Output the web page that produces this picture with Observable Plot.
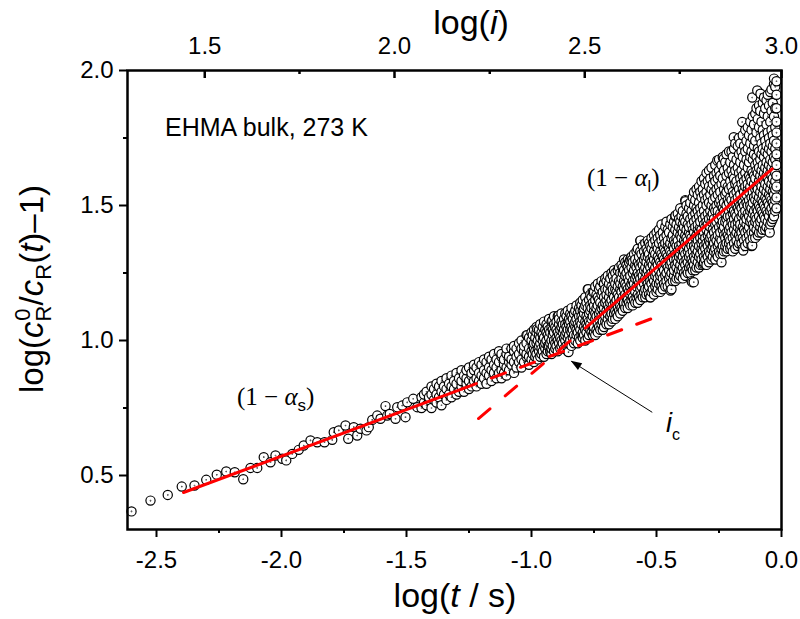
<!DOCTYPE html>
<html>
<head>
<meta charset="utf-8">
<script src="https://cdn.jsdelivr.net/npm/d3@7"></script>
<script src="https://cdn.jsdelivr.net/npm/@observablehq/plot@0.6"></script>
<style>
  html, body { margin: 0; padding: 0; background: #fff; }
  #chart svg { display: block; }
</style>
</head>
<body>
<div id="chart"></div>
<script>
// ---------- data ----------
const xTicks = [-2.5, -2.0, -1.5, -1.0, -0.5, 0.0];
const xMinor = [-2.25, -1.75, -1.25, -0.75, -0.25];
const yTicks = [0.5, 1.0, 1.5, 2.0];
const yMinor = [0.75, 1.25, 1.75];
// top axis log(i): labels and their positions on the log(t) scale
const topLabels = ["1.5", "2.0", "2.5", "3.0"];
const topPos = [-2.307, -1.548, -0.787, 0.0];
const topMinorPos = [-1.928, -1.167, -0.407];

// sparse early-time points
const earlyT = [-2.600,-2.524,-2.455,-2.399,-2.348,-2.301,-2.259,-2.221,-2.187,-2.153,-2.124,-2.097,-2.071,-2.044,-2.024,-1.997,-1.981,-1.957,-1.931,-1.911,-1.884,-1.857,-1.828,-1.797,-1.791,-1.771,-1.744,-1.733,-1.711,-1.697,-1.684,-1.660,-1.651,-1.637,-1.617,-1.604,-1.584,-1.577,-1.567,-1.544,-1.537,-1.517,-1.504,-1.497,-1.473,-1.457];
const earlyR = [0.367,0.407,0.428,0.459,0.463,0.484,0.503,0.515,0.512,0.486,0.528,0.528,0.568,0.549,0.574,0.562,0.556,0.580,0.595,0.611,0.630,0.623,0.623,0.632,0.660,0.667,0.685,0.636,0.679,0.648,0.673,0.667,0.679,0.706,0.722,0.710,0.757,0.722,0.728,0.710,0.753,0.759,0.716,0.771,0.784,0.753];

// scattered points lying off the main band (read individually)
const strayT = [-1.017,-0.977,-0.917,-0.891,-0.924,-0.852,-0.773,-0.711,-0.604,-0.597,-0.564,-0.524,-0.444,-0.424,-0.384,-0.357,-0.351,-0.311,-0.257,-0.240,-0.231,-0.191,-0.157,-0.153,-0.117,-0.117,-0.097,-0.084,-0.047];
const strayR = [1.019,1.043,1.074,1.093,0.957,0.957,1.190,1.210,1.296,1.300,1.370,1.160,1.185,1.463,1.516,1.216,1.216,1.284,1.667,1.290,1.673,1.753,1.809,1.333,1.352,1.900,1.926,1.914,1.400];

// middle band: [log t, log(...) values]
const bandCols = [
  [-1.44,0.75,0.79],[-1.43,0.77,0.80],[-1.42,0.76,0.81],[-1.41,0.78,0.79],[-1.40,0.75,0.80,0.83],
  [-1.39,0.78,0.82],[-1.38,0.77,0.80,0.84],[-1.37,0.79,0.83],[-1.36,0.76,0.81,0.85],[-1.35,0.80,0.83],
  [-1.34,0.78,0.82,0.86],[-1.33,0.80,0.84],[-1.32,0.79,0.83,0.87],[-1.31,0.82,0.85],[-1.30,0.80,0.84,0.88],
  [-1.29,0.81,0.86],[-1.28,0.83,0.85,0.89],[-1.27,0.81,0.87],[-1.26,0.84,0.86,0.89],[-1.25,0.82,0.85,0.90],
  [-1.24,0.83,0.87,0.88],[-1.23,0.85,0.89,0.91],[-1.22,0.83,0.86,0.90],[-1.21,0.85,0.88,0.92],[-1.20,0.84,0.87,0.91],
  [-1.19,0.86,0.89,0.93],[-1.18,0.84,0.88,0.92],[-1.17,0.87,0.90,0.94],[-1.16,0.85,0.89,0.93],[-1.15,0.88,0.91,0.95],
  [-1.14,0.86,0.90,0.93],[-1.13,0.88,0.92,0.96],[-1.12,0.86,0.89,0.94,0.95],[-1.11,0.88,0.91,0.93],[-1.10,0.87,0.90,0.95,0.97],
  [-1.09,0.89,0.92,0.94],[-1.08,0.91,0.93,0.97],[-1.07,0.88,0.92,0.96,0.98],[-1.06,0.90,0.94,0.97],[-1.05,0.92,0.95,0.99],
  [-1.04,0.90,0.93,0.97,1.00],[-1.03,0.92,0.96,0.98],[-1.02,0.94,0.95,0.99,1.02],[-1.01,0.91,0.94,0.97,1.01],[-1.00,0.93,0.96,1.00,1.03],
  [-0.995,0.95,0.98,1.02],[-0.99,0.92,0.97,0.99,1.04],[-0.985,0.94,0.96,1.01],[-0.98,0.95,0.99,1.03,1.05],[-0.975,0.93,0.97,1.00],
  [-0.97,0.96,0.98,1.02,1.04],[-0.965,0.94,0.99,1.01,1.06],[-0.96,0.95,0.97,1.03],[-0.955,0.96,1.00,1.02,1.05],[-0.95,0.94,0.98,1.01,1.07],
  [-0.945,0.97,0.99,1.04],[-0.94,0.95,1.00,1.03,1.06],[-0.935,0.96,0.98,1.02,1.05],[-0.93,0.98,1.01,1.04,1.08],[-0.925,0.96,0.99,1.03],
  [-0.92,0.95,0.97,1.00,1.05,1.07],[-0.915,0.98,1.02,1.04],[-0.91,0.96,1.00,1.03,1.06,1.09],[-0.905,0.97,0.99,1.05],[-0.90,0.98,1.01,1.04,1.07],
  [-0.895,0.96,1.00,1.03,1.09],[-0.89,0.99,1.02,1.06,1.08],[-0.885,0.97,1.01,1.04],[-0.88,0.98,1.00,1.05,1.07,1.10],[-0.875,0.99,1.03,1.06],
  [-0.87,0.97,1.01,1.04,1.08],[-0.865,1.00,1.02,1.06,1.10],[-0.86,0.98,1.03,1.05,1.09],[-0.855,0.96,1.01,1.04,1.07,1.11],[-0.85,0.99,1.02,1.06,1.08],
  [-0.845,1.00,1.04,1.07,1.10],[-0.84,0.98,1.03,1.05,1.09,1.12],[-0.835,1.01,1.04,1.08],[-0.83,0.99,1.02,1.06,1.10],[-0.825,1.00,1.05,1.07,1.11],
  [-0.82,1.02,1.04,1.08,1.13],[-0.815,0.99,1.03,1.06,1.10],[-0.81,1.01,1.05,1.09,1.12],[-0.805,1.00,1.04,1.07,1.11,1.14],[-0.80,1.02,1.06,1.09,1.13],
  [-0.795,1.01,1.03,1.08,1.11,1.15],[-0.79,1.02,1.05,1.10,1.12],[-0.785,1.00,1.04,1.07,1.13,1.16],[-0.78,1.03,1.06,1.09,1.14],[-0.775,1.01,1.05,1.08,1.12,1.19],
  [-0.77,1.02,1.07,1.10,1.15],[-0.765,1.04,1.06,1.11,1.13,1.17],[-0.76,1.03,1.08,1.12,1.16],[-0.755,1.02,1.05,1.09,1.14,1.18]
];

// late-time dense tail: [log t, log(...) values]
const tailCols = [
  [-0.750,1.03,1.05,1.11,1.13,1.18],[-0.745,1.02,1.08,1.10,1.15,1.20],[-0.740,1.04,1.09,1.12,1.17],[-0.735,1.03,1.06,1.13,1.16,1.21],
  [-0.730,1.05,1.08,1.10,1.15,1.19],[-0.725,1.04,1.11,1.14,1.20],[-0.720,1.06,1.09,1.12,1.17,1.22],[-0.715,1.04,1.07,1.13,1.18],
  [-0.710,1.05,1.10,1.12,1.16,1.21],[-0.705,1.07,1.09,1.14,1.19,1.23],[-0.700,1.06,1.11,1.15,1.17,1.22],[-0.695,1.08,1.10,1.13,1.19,1.24],
  [-0.690,1.06,1.12,1.16,1.21],[-0.685,1.09,1.11,1.14,1.18,1.23],[-0.680,1.07,1.10,1.15,1.20,1.25],[-0.675,1.08,1.13,1.17,1.19,1.24],
  [-0.670,1.10,1.12,1.16,1.22,1.26],[-0.665,1.08,1.11,1.14,1.19,1.21,1.25],[-0.660,1.10,1.15,1.18,1.23],[-0.655,1.09,1.12,1.17,1.20,1.26],
  [-0.650,1.11,1.14,1.16,1.22,1.27],[-0.645,1.10,1.13,1.19,1.21,1.25],[-0.640,1.12,1.15,1.18,1.23,1.28],[-0.635,1.11,1.16,1.20,1.25,1.27],
  [-0.630,1.13,1.14,1.19,1.22,1.26,1.30],[-0.625,1.12,1.17,1.21,1.24,1.29],[-0.620,1.14,1.16,1.20,1.25,1.28],[-0.615,1.12,1.15,1.19,1.23,1.27,1.30],
  [-0.610,1.14,1.18,1.22,1.26,1.29],[-0.605,1.13,1.17,1.20,1.24,1.30],[-0.600,1.15,1.18,1.21,1.27,1.31],[-0.595,1.13,1.16,1.22,1.25,1.29],
  [-0.590,1.15,1.19,1.21,1.26,1.32],[-0.585,1.14,1.18,1.23,1.28,1.30],[-0.580,1.16,1.20,1.24,1.27,1.33],[-0.575,1.14,1.17,1.22,1.25,1.29,1.34],
  [-0.570,1.16,1.21,1.24,1.28,1.31],[-0.565,1.15,1.19,1.23,1.27,1.33,1.37],[-0.560,1.17,1.20,1.25,1.29,1.32],[-0.555,1.16,1.22,1.24,1.28,1.35],
  [-0.550,1.18,1.21,1.26,1.30,1.33],[-0.545,1.16,1.19,1.23,1.27,1.31,1.36],[-0.540,1.17,1.22,1.25,1.29,1.34],[-0.535,1.19,1.21,1.26,1.31,1.33,1.37],
  [-0.530,1.17,1.20,1.24,1.28,1.32,1.36],[-0.525,1.16,1.22,1.27,1.30,1.35],[-0.520,1.18,1.21,1.25,1.29,1.34,1.38],[-0.515,1.19,1.23,1.28,1.31,1.36],
  [-0.510,1.17,1.22,1.26,1.30,1.33,1.39],[-0.505,1.20,1.24,1.27,1.32,1.37],[-0.500,1.18,1.21,1.25,1.29,1.35,1.40],[-0.495,1.19,1.23,1.28,1.31,1.34,1.38],
  [-0.490,1.21,1.26,1.30,1.36,1.41],[-0.485,1.18,1.22,1.24,1.29,1.33,1.39],[-0.480,1.20,1.25,1.28,1.32,1.37,1.43],[-0.475,1.19,1.23,1.27,1.31,1.35,1.40],
  [-0.470,1.21,1.26,1.30,1.34,1.38],[-0.465,1.20,1.24,1.29,1.33,1.36,1.42],[-0.460,1.22,1.25,1.28,1.32,1.39,1.44],[-0.455,1.20,1.27,1.31,1.35,1.37,1.41],
  [-0.450,1.23,1.26,1.30,1.34,1.40],[-0.445,1.21,1.24,1.28,1.33,1.36,1.43],[-0.440,1.19,1.25,1.29,1.32,1.38,1.45],[-0.435,1.22,1.27,1.31,1.35,1.39,1.42],
  [-0.430,1.24,1.26,1.30,1.34,1.37,1.44],[-0.425,1.22,1.28,1.32,1.36,1.41,1.46],[-0.420,1.23,1.27,1.30,1.35,1.38,1.43],[-0.415,1.25,1.29,1.33,1.37,1.40,1.47],
  [-0.410,1.23,1.26,1.31,1.35,1.42,1.45],[-0.405,1.24,1.28,1.32,1.34,1.39,1.44,1.49],[-0.400,1.26,1.30,1.36,1.38,1.41,1.46],[-0.395,1.23,1.27,1.31,1.34,1.40,1.43,1.48],
  [-0.390,1.25,1.29,1.33,1.37,1.42,1.45],[-0.385,1.24,1.28,1.32,1.36,1.39,1.44,1.52],[-0.380,1.26,1.30,1.35,1.38,1.41,1.47,1.50],[-0.375,1.25,1.29,1.33,1.37,1.43,1.46],
  [-0.370,1.27,1.31,1.34,1.40,1.42,1.49],[-0.365,1.25,1.28,1.32,1.36,1.39,1.45,1.51],[-0.360,1.22,1.27,1.30,1.35,1.38,1.43,1.48],[-0.355,1.26,1.29,1.33,1.37,1.41,1.46,1.53],
  [-0.350,1.28,1.31,1.35,1.40,1.44,1.50,1.55],[-0.345,1.26,1.30,1.34,1.38,1.42,1.47,1.52],[-0.340,1.27,1.32,1.36,1.39,1.45,1.49,1.56],[-0.335,1.29,1.33,1.37,1.41,1.43,1.48,1.54],
  [-0.330,1.27,1.31,1.35,1.40,1.46,1.51,1.57],[-0.325,1.28,1.32,1.38,1.42,1.44,1.49,1.55],[-0.320,1.30,1.34,1.36,1.41,1.47,1.53,1.59],[-0.315,1.28,1.33,1.37,1.39,1.45,1.50,1.56],
  [-0.310,1.29,1.31,1.35,1.40,1.43,1.48,1.54,1.60],[-0.305,1.30,1.34,1.38,1.42,1.46,1.52,1.58],[-0.300,1.28,1.32,1.36,1.41,1.44,1.50,1.55,1.62],[-0.295,1.31,1.35,1.39,1.43,1.47,1.53,1.59],
  [-0.290,1.29,1.33,1.37,1.40,1.45,1.51,1.57,1.63],[-0.285,1.32,1.36,1.38,1.42,1.48,1.54,1.60],[-0.280,1.30,1.34,1.39,1.44,1.46,1.50,1.56,1.64],[-0.275,1.31,1.35,1.37,1.41,1.47,1.52,1.58],
  [-0.270,1.33,1.36,1.40,1.45,1.49,1.55,1.61],[-0.265,1.30,1.34,1.38,1.43,1.48,1.53,1.59,1.65],[-0.260,1.32,1.37,1.41,1.44,1.50,1.56,1.62],[-0.255,1.31,1.35,1.39,1.46,1.48,1.54,1.60],
  [-0.250,1.33,1.36,1.42,1.45,1.51,1.57,1.63,1.67],[-0.245,1.32,1.38,1.40,1.47,1.52,1.55,1.61],[-0.240,1.34,1.37,1.43,1.46,1.50,1.58,1.65],[-0.235,1.32,1.35,1.41,1.44,1.49,1.53,1.60,1.68],
  [-0.230,1.33,1.39,1.42,1.48,1.51,1.56,1.63],[-0.225,1.35,1.38,1.44,1.47,1.54,1.58,1.66],[-0.220,1.33,1.36,1.40,1.45,1.50,1.55,1.61,1.69],[-0.215,1.34,1.39,1.43,1.46,1.52,1.57,1.64],
  [-0.210,1.36,1.38,1.41,1.48,1.51,1.56,1.62,1.70],[-0.205,1.34,1.37,1.42,1.46,1.53,1.59,1.66],[-0.200,1.35,1.40,1.44,1.49,1.52,1.57,1.63,1.70],[-0.195,1.33,1.38,1.43,1.47,1.50,1.55,1.61,1.68],
  [-0.190,1.36,1.41,1.45,1.48,1.54,1.60,1.65,1.71],[-0.185,1.34,1.39,1.43,1.47,1.52,1.58,1.63,1.73],[-0.180,1.37,1.40,1.46,1.50,1.55,1.59,1.67],[-0.175,1.35,1.42,1.44,1.49,1.53,1.57,1.64,1.72],
  [-0.170,1.36,1.39,1.45,1.48,1.51,1.56,1.62,1.69,1.75],[-0.165,1.38,1.41,1.43,1.50,1.54,1.60,1.66,1.73],[-0.160,1.36,1.40,1.46,1.49,1.52,1.58,1.63,1.70],[-0.155,1.34,1.38,1.42,1.47,1.51,1.56,1.61,1.68,1.76],
  [-0.150,1.37,1.41,1.44,1.50,1.55,1.59,1.65,1.72],[-0.145,1.35,1.40,1.46,1.48,1.53,1.57,1.62,1.70,1.78],[-0.140,1.38,1.43,1.45,1.51,1.54,1.60,1.67,1.74],[-0.135,1.36,1.41,1.47,1.50,1.56,1.58,1.64,1.71,1.79],
  [-0.130,1.39,1.42,1.46,1.52,1.55,1.61,1.66,1.76],[-0.125,1.37,1.44,1.48,1.50,1.57,1.60,1.68,1.73,1.81],[-0.120,1.35,1.40,1.45,1.49,1.53,1.59,1.63,1.70,1.78],[-0.115,1.38,1.43,1.47,1.51,1.55,1.62,1.67,1.75,1.83],
  [-0.110,1.40,1.42,1.48,1.53,1.58,1.61,1.69,1.72,1.80],[-0.105,1.38,1.44,1.46,1.52,1.56,1.60,1.65,1.74,1.84],[-0.100,1.41,1.45,1.49,1.54,1.57,1.63,1.68,1.77,1.86],[-0.095,1.39,1.43,1.48,1.51,1.56,1.62,1.66,1.71,1.82],
  [-0.090,1.40,1.46,1.50,1.53,1.59,1.64,1.70,1.79,1.87],[-0.085,1.42,1.44,1.49,1.55,1.58,1.61,1.67,1.75,1.85],[-0.080,1.40,1.45,1.48,1.52,1.57,1.63,1.69,1.73,1.81],[-0.075,1.41,1.47,1.51,1.54,1.60,1.65,1.71,1.78,1.88],
  [-0.070,1.43,1.46,1.50,1.56,1.59,1.62,1.68,1.76,1.84,1.90],[-0.065,1.41,1.45,1.49,1.53,1.58,1.64,1.70,1.74,1.86],[-0.060,1.42,1.48,1.52,1.55,1.61,1.66,1.72,1.80,1.89],[-0.055,1.44,1.47,1.51,1.57,1.60,1.63,1.69,1.77,1.83,1.91],
  [-0.050,1.41,1.46,1.50,1.54,1.59,1.65,1.71,1.75,1.87],[-0.045,1.43,1.48,1.53,1.56,1.62,1.67,1.73,1.81,1.92],[-0.040,1.44,1.49,1.52,1.58,1.61,1.64,1.70,1.78,1.85,1.93],[-0.035,1.45,1.47,1.51,1.55,1.60,1.66,1.72,1.76,1.88],
  [-0.030,1.46,1.50,1.54,1.57,1.63,1.68,1.74,1.83,1.95,1.97],[-0.025,1.48,1.52,1.56,1.59,1.62,1.67,1.71,1.79,1.86,1.94],[-0.020,1.49,1.53,1.57,1.61,1.65,1.69,1.73,1.77,1.81,1.86,1.91,1.96]
];

// linear fits (solid) and their extrapolations (dashed)
const shortFitT = [-2.392, -1.277], shortFitR = [0.437, 0.821];
const shortExtT = [-1.277, -0.484], shortExtR = [0.821, 1.093];
const longFitT = [-0.757, -0.037], longFitR = [1.068, 1.636];
const longExtT = [-1.212, -0.757], longExtR = [0.711, 1.068];
// arrow pointing at the crossover i_c (tail -> tip)
const arrowT = [-0.517, -0.841], arrowR = [0.734, 0.923];

// ---------- build ----------
const points = [];
earlyT.forEach((t, i) => points.push({t, r: earlyR[i]}));
strayT.forEach((t, i) => points.push({t, r: strayR[i]}));
for (const [t, ...rs] of bandCols) for (const r of rs) points.push({t, r});
for (const [t, ...rs] of tailCols) for (const r of rs) points.push({t, r});
points.sort((a, b) => a.t - b.t);   // draw in time order, later points on top
const seg = (T, R) => T.map((t, i) => ({t, r: R[i]}));
const topMap = new Map(topPos.map((p, i) => [p, topLabels[i]]));

// circle with a tiny centre dot (Origin style)
const ringDot = {
  draw(context, size) {
    const r = Math.sqrt(size / Math.PI);
    context.moveTo(r, 0);
    context.arc(0, 0, r, 0, 2 * Math.PI);
    context.moveTo(0.2, 0);
    context.arc(0, 0, 0.2, 0, 2 * Math.PI);
  }
};

const RED = "#ff0000";
const plot = Plot.plot({
  width: 800,
  height: 619,
  marginLeft: 127,
  marginRight: 19,
  marginTop: 70,
  marginBottom: 90,
  x: {domain: [-2.616, 0.0]},
  y: {domain: [0.3, 2.0]},
  style: {fontFamily: "'Liberation Sans', Arial, sans-serif", fontSize: "24px", color: "black", background: "white", overflow: "visible"},
  marks: [
    Plot.axisX({ticks: xTicks, tickFormat: d => d.toFixed(1), tickSize: 8, tickPadding: 13, strokeWidth: 2, label: null}),
    Plot.axisX({ticks: xMinor, tickFormat: () => "", tickSize: 4, strokeWidth: 2, label: null}),
    Plot.axisY({ticks: yTicks, tickFormat: d => d.toFixed(1), tickSize: 8, tickPadding: 6, strokeWidth: 2, label: null}),
    Plot.axisY({ticks: yMinor, tickFormat: () => "", tickSize: 4, strokeWidth: 2, label: null}),
    Plot.axisX({anchor: "top", ticks: topPos, tickFormat: d => topMap.get(d), tickSize: 0, tickPadding: 17, label: null}),
    Plot.tickX(topPos, {x: d => d, insetBottom: 451, strokeWidth: 2.5, stroke: "black"}),
    Plot.tickX(topMinorPos, {x: d => d, insetBottom: 455, strokeWidth: 2.5, stroke: "black"}),
    Plot.dot(points, {x: "t", y: "r", r: 4.6, symbol: ringDot, fill: "white", stroke: "black", strokeWidth: 1.2}),
    Plot.line(seg(shortFitT, shortFitR), {x: "t", y: "r", stroke: RED, strokeWidth: 3}),
    Plot.line(seg(shortExtT, shortExtR), {x: "t", y: "r", stroke: RED, strokeWidth: 3, strokeDasharray: "15,16"}),
    Plot.line(seg(longFitT, longFitR), {x: "t", y: "r", stroke: RED, strokeWidth: 3}),
    Plot.line(seg(longExtT, longExtR), {x: "t", y: "r", stroke: RED, strokeWidth: 3, strokeDasharray: "15,20"}),
    Plot.link([0], {x1: () => arrowT[0], y1: () => arrowR[0], x2: () => arrowT[1], y2: () => arrowR[1], stroke: "black", strokeWidth: 1}),
    Plot.frame({stroke: "black", strokeWidth: 2.5})
  ]
});

document.getElementById("chart").appendChild(plot);

// ---------- annotations and titles (real text) ----------
const svg = d3.select(plot);
const sx = plot.scale("x"), sy = plot.scale("y");
const SANS = "'Liberation Sans', Arial, sans-serif";
const SERIF = "'Liberation Serif', 'Times New Roman', serif";

// arrow head
{
  const tx = sx.apply(arrowT[1]), ty = sy.apply(arrowR[1]);
  const fx = sx.apply(arrowT[0]), fy = sy.apply(arrowR[0]);
  const len = Math.hypot(tx - fx, ty - fy);
  const ux = (tx - fx) / len, uy = (ty - fy) / len;
  const bx = tx - 11 * ux, by = ty - 11 * uy;
  const nx = -uy, ny = ux;
  svg.append("polygon")
    .attr("points", [[tx, ty], [bx + 4 * nx, by + 4 * ny], [bx - 4 * nx, by - 4 * ny]].map(p => p.join(",")).join(" "))
    .attr("fill", "black");
}

function addText(x, y, parts, opts = {}) {
  const t = svg.append("text")
    .attr("x", x).attr("y", y)
    .attr("font-family", opts.family || SANS)
    .attr("font-size", opts.size || 24)
    .attr("fill", "black")
    .attr("text-anchor", opts.anchor || "start");
  if (opts.transform) t.attr("transform", opts.transform);
  for (const p of parts) {
    const s = t.append("tspan").text(p.text);
    if (p.italic) s.attr("font-style", "italic");
    if (p.size) s.attr("font-size", p.size);
    if (p.dy) s.attr("dy", p.dy);
    if (p.dx) s.attr("dx", p.dx);
    if (p.family) s.attr("font-family", p.family);
  }
  return t;
}

// axis titles
addText(471, 34, [{text: "log("}, {text: "i", italic: true}, {text: ")"}], {size: 34, anchor: "middle"});
addText(455, 607, [{text: "log("}, {text: "t", italic: true}, {text: " / s)"}], {size: 34, anchor: "middle"});
addText(0, 0, [
  {text: "log("}, {text: "c", italic: true},
  {text: "R", size: 22, dy: 8}, {text: "0", size: 22, dx: -15, dy: -21},
  {text: "/", dy: 13, dx: 3}, {text: "c", italic: true},
  {text: "R", size: 22, dy: 8}, {text: "(", dy: -8},
  {text: "t", italic: true}, {text: ")–1)"}
], {size: 33, anchor: "middle", transform: "translate(43,289) rotate(-90)"});

// in-plot annotations
addText(165, 136, [{text: "EHMA bulk, 273 K"}], {size: 25});
addText(587, 186, [{text: "(1 − "}, {text: "α", italic: true}, {text: "l", size: 16, dy: 6, family: SANS}, {text: ")", dy: -6}], {size: 25, family: SERIF});
addText(237, 405, [{text: "(1 − "}, {text: "α", italic: true}, {text: "s", size: 17, dy: 6, family: SANS}, {text: ")", dy: -6}], {size: 25, family: SERIF});
addText(666, 432, [{text: "i", italic: true}, {text: "c", size: 16, dy: 8}], {size: 27});
</script>
</body>
</html>
